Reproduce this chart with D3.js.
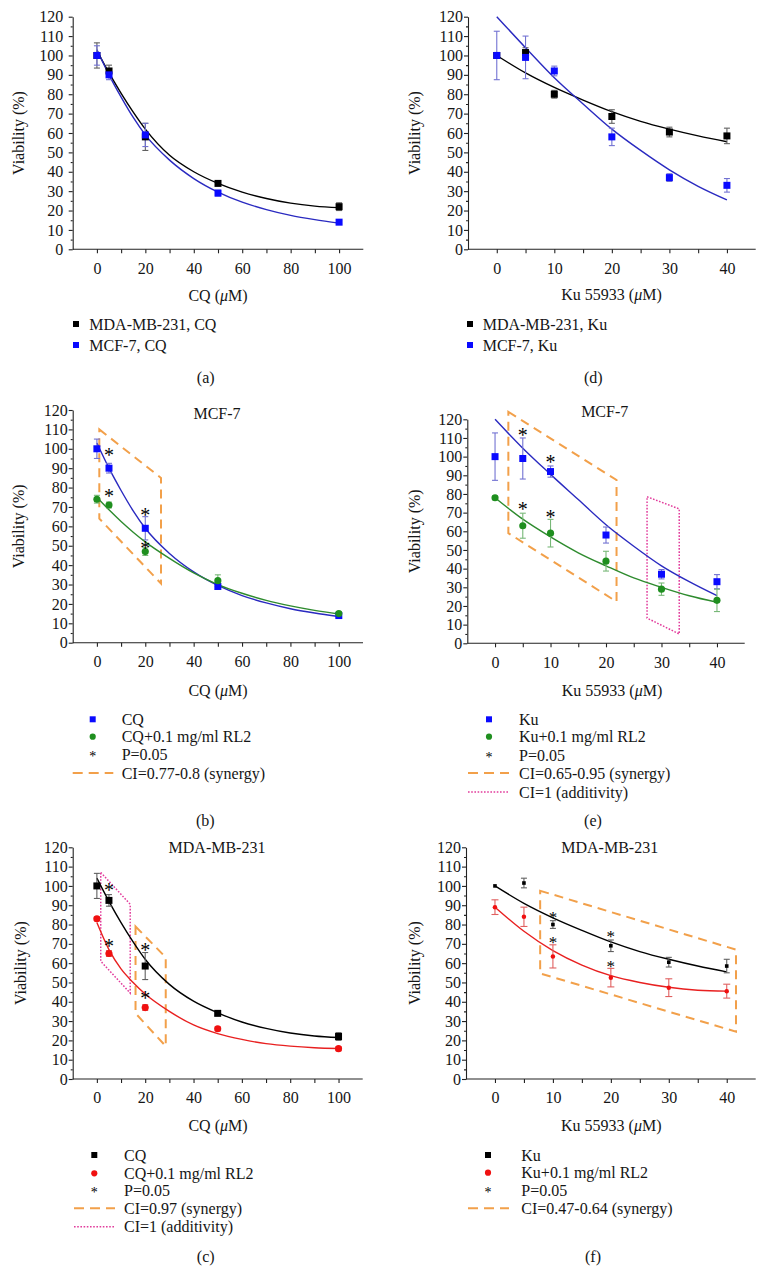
<!DOCTYPE html>
<html><head><meta charset="utf-8">
<script src="https://cdn.jsdelivr.net/npm/d3@7"></script>
<style>
body{margin:0;background:#fff}
svg text{font-family:"Liberation Serif","DejaVu Serif",serif !important;fill:#151515}
</style>
</head><body>
<svg id="fig" width="767" height="1273" font-family="Liberation Serif"></svg>
<script>
// ---------- tick labels ----------
const yTickLabels = [0,10,20,30,40,50,60,70,80,90,100,110,120];
const yMinorTicks = [5,15,25,35,45,55,65,75,85,95,105,115];
const cqTicks = [0,10,20,30,40,50,60,70,80,90,100];
const cqTickLabels = [0,20,40,60,80,100];
const kuTicks = [0,5,10,15,20,25,30,35,40];
const kuTickLabels = [0,10,20,30,40];

// ---------- doses ----------
const cqDoses = [0,5,20,50,100];
const kuDoses = [0,5,10,20,30,40];
const cqCurveX = [0,5,10,15,20,30,40,50,60,70,80,90,100];
const kuCurveX = [0,5,10,15,20,25,30,35,40];

// ---------- panel (a) ----------
const a_mda = [100,92,58,34,22];
const a_mdaErr = [6.5,3,7,1,2];
const a_mcf = [100,90,59,29,14];
const a_mcfErr = [5,2.5,6,1.5,1];
const a_mdaCurve = [102.5,91,80.5,70.8,62,48.5,40,34,29.5,26.2,23.8,22.3,21.5];
const a_mcfCurve = [103,90,78.5,68,59,46,36.5,29.5,24.3,20.5,17.5,15.3,13.5];

// ---------- panel (d) ----------
const d_mda = [100,101.5,80,68.5,60.5,58.5];
const d_mdaErr = [0.5,2.5,2,3.5,2.5,4];
const d_mcf = [100,99,92,58,37,33];
const d_mcfErr = [12.5,11,2.5,4.5,2,3.5];
const d_mdaCurve = [100,91,83.5,77,71,66,62,58.5,55.5];
const d_mcfCurve = [120,104,88.5,75,62,51,41,32.5,25.5];

// ---------- panel (b) ----------
const b_cq = [100,90,59,29,14];
const b_cqErr = [5,2.5,6,1.5,1];
const b_comb = [74,71,47,32,15];
const b_combErr = [2,1.5,2,3,1];
const b_cqCurve = [103,90,78.5,68,59,46,36.5,29.5,24.3,20.5,17.5,15.3,13.5];
const b_combCurve = [75,68.5,62.5,57,52,43.5,36,30,25.5,21.8,19,16.7,14.8];
const b_starX = [5,5,20,20];
const b_starY = [98.5,77,67.5,50.5];
const b_synX = [1,26.5,26.5,1];
const b_synY = [110,85,30.5,64];

// ---------- panel (e) ----------
const e_ku = [100,99,92,58,37,33];
const e_kuErr = [12.7,11,3,4.3,2.5,3.8];
const e_comb = [78,63,59,44,29,23];
const e_combErr = [1,6.7,7.4,5.3,3.3,6];
const e_kuCurve = [120,104.5,90.5,77,63.5,52,41.5,33,25.5];
const e_combCurve = [78,66.5,57,48.5,41.5,35,30,25.5,22];
const e_starX = [5,10,5,10];
const e_starY = [113,98.5,73.5,69.3];
const e_synX = [2.4,21.9,21.9,2.4];
const e_synY = [124,87.5,22.3,59];
const e_addX = [27.4,33.2,33.2,27.4];
const e_addY = [78.5,72,5,13.5];

// ---------- panel (c) ----------
const c_cq = [100,92.5,58.5,34,22];
const c_cqErr = [6.5,3,7,1,2];
const c_comb = [83,65,37,26,15.7];
const c_combErr = [1,1.5,1.5,1,1];
const c_cqCurve = [104,92,81,71,62,49,40.3,34.3,29.5,26.2,23.8,22.3,21.5];
const c_combCurve = [81,67,57,50,44,35,28,23.5,20.5,18.3,17,16.2,15.8];
const c_starX = [5,5,20,20];
const c_starY = [99.3,70.3,68.5,43.5];
const c_addX = [1.6,13.8,13.8,1.6];
const c_addY = [107,90.5,44.5,61];
const c_synX = [16,28.5,28.5,16];
const c_synY = [79,63,17,34];

// ---------- panel (f) ----------
const f_ku = [100,101.5,80,69,60.5,58.5];
const f_kuErr = [0.5,2.5,2,3,2.5,3.5];
const f_comb = [89,84,63.5,52.5,47.3,45.5];
const f_combErr = [3.8,5,6,4.8,4.6,3.6];
const f_kuCurve = [100,91,83.5,77,71,66,62,58.5,55.5];
const f_combCurve = [89,76.5,66.5,59,53.5,50,47.5,46,45.5];
const f_starX = [10,10,20,20];
const f_starY = [85,72,75.4,60];
const f_synX = [7.8,41.6,41.6,7.8];
const f_synY = [97.5,67,24.5,54.7];

// ---------- styles ----------
const SERIF = '"Liberation Serif","DejaVu Serif",serif';
const C = {
  black:{mark:"#000000", line:"#000000", err:"#606060"},
  blue:{mark:"#0a0aff", line:"#2a2ac0", err:"#7272d2"},
  green:{mark:"#1f8f1f", line:"#2e8b2e", err:"#78b878"},
  red:{mark:"#f01010", line:"#e82020", err:"#e06060"}
};
const ORANGE = "#f2a04a", MAGENTA = "#e23c9c";

const svg = d3.select("#fig");

function txt(g){ return g.append("text").style("font-family",SERIF).style("font-size","16px"); }

function xTitle(g, x, y, prefix){
  const t = txt(g).attr("x",x).attr("y",y).attr("text-anchor","middle").attr("dominant-baseline","central");
  t.append("tspan").text(prefix + " (");
  t.append("tspan").style("font-style","italic").text("\u03bc");
  t.append("tspan").text("M)");
}

function panel(p){
  const x = d3.scaleLinear().domain(p.xDomain).range([p.left,p.right]);
  const y = d3.scaleLinear().domain([0,120]).range([p.bottom,p.top]);
  const g = svg.append("g");

  // axes
  const xa = g.append("g").attr("transform",`translate(0,${p.bottom})`)
    .call(d3.axisBottom(x).tickValues(p.xTicks).tickSize(4).tickSizeOuter(0).tickPadding(9)
      .tickFormat(d => p.xLabels.includes(d) ? d : ""));
  g.append("g").attr("transform",`translate(${p.left},0)`)
    .call(d3.axisLeft(y).tickValues(yTickLabels).tickSize(4).tickSizeOuter(0).tickPadding(p.yPad));
  g.append("g").attr("transform",`translate(${p.left},0)`)
    .call(d3.axisLeft(y).tickValues(yMinorTicks).tickSize(2).tickSizeOuter(0).tickFormat(""))
    .select(".domain").remove();
  g.selectAll("g").attr("font-family",null).attr("font-size",null);
  g.selectAll(".tick text").style("font-family",SERIF).style("font-size","16px").style("fill","#151515");
  g.selectAll(".domain, .tick line").attr("stroke","#222").attr("stroke-width",1.1);
  xa.select(".domain").attr("d",`M${p.left},0H${p.right}`);

  // axis titles
  txt(g).attr("transform",`translate(${p.yTitleX},${(p.top+p.bottom)/2}) rotate(-90)`)
    .attr("text-anchor","middle").attr("dominant-baseline","central").text("Viability (%)");
  xTitle(g, p.xTitleX, p.xTitleY, p.xName);
  if (p.title) txt(g).attr("x",p.titleX).attr("y",p.titleY).attr("text-anchor","middle")
    .attr("dominant-baseline","central").text(p.title);

  // CI polygons
  (p.polys||[]).forEach(pl => {
    const pts = pl.xs.map((v,i)=>[x(v), y(pl.ys[i])]);
    g.append("path").attr("d","M"+pts.join("L")+"Z").attr("fill","none")
      .attr("stroke", pl.kind==="syn"?ORANGE:MAGENTA)
      .attr("stroke-width", pl.kind==="syn"?2:1.5)
      .attr("stroke-dasharray", pl.kind==="syn"?"9,6":"1.6,1.6");
  });

  const line = d3.line().curve(d3.curveMonotoneX).x(d=>x(d[0])).y(d=>y(d[1]));
  p.series.forEach(s => {
    const col = C[s.color];
    g.append("path").attr("d", line(s.cx.map((v,i)=>[v,s.cy[i]])))
      .attr("fill","none").attr("stroke",col.line).attr("stroke-width",1.4);
    const eb = g.append("g").attr("stroke",col.err).attr("stroke-width",1.1);
    s.x.forEach((v,i)=>{
      const e = s.err[i]; if (e<=0.6) return;
      const cx = x(v), y1 = y(s.y[i]+e), y2 = y(s.y[i]-e), w = s.cap;
      eb.append("line").attr("x1",cx).attr("x2",cx).attr("y1",y1).attr("y2",y2);
      eb.append("line").attr("x1",cx-w).attr("x2",cx+w).attr("y1",y1).attr("y2",y1);
      eb.append("line").attr("x1",cx-w).attr("x2",cx+w).attr("y1",y2).attr("y2",y2);
    });
  });
  p.series.forEach(s => {
    const col = C[s.color];
    const sym = d3.symbol().type(s.shape==="square"?d3.symbolSquare:d3.symbolCircle).size(s.size);
    g.selectAll(null).data(s.x.map((v,i)=>[v,s.y[i]])).join("path")
      .attr("transform",d=>`translate(${x(d[0])},${y(d[1])})`).attr("d",sym()).attr("fill",col.mark);
  });
  if (p.stars) p.stars.xs.forEach((v,i)=>{
    txt(g).attr("x",x(v)).attr("y",y(p.stars.ys[i])+p.stars.fs*0.5)
      .attr("text-anchor","middle").style("font-size",p.stars.fs+"px").style("fill","#000").text("*");
  });

  // legend
  p.legend.items.forEach((it,i)=>{
    const ly = p.legend.rows[i];
    const L = p.legend;
    if (it.type==="square"||it.type==="circle"){
      const sym = d3.symbol().type(it.type==="square"?d3.symbolSquare:d3.symbolCircle).size(it.type==="square"?36:30);
      g.append("path").attr("transform",`translate(${L.mx},${ly})`).attr("d",sym()).attr("fill",C[it.color].mark);
    } else if (it.type==="star"){
      txt(g).attr("x",L.mx).attr("y",ly+7).attr("text-anchor","middle").style("font-size","14px").style("fill","#000").text("*");
    } else {
      g.append("line").attr("x1",L.l1).attr("x2",L.l2).attr("y1",ly).attr("y2",ly)
        .attr("stroke", it.type==="dash"?ORANGE:MAGENTA).attr("stroke-width", it.type==="dash"?2:1.5)
        .attr("stroke-dasharray", it.type==="dash"?"10,6":"1.6,1.6");
    }
    txt(g).attr("x",L.tx).attr("y",ly).attr("dominant-baseline","central").text(it.label);
  });
  txt(g).attr("x",p.tagX).attr("y",p.tagY).attr("text-anchor","middle")
    .attr("dominant-baseline","central").text(p.tag);
}

const sq = {shape:"square", size:49, cap:3};
const ci = {shape:"circle", size:40, cap:3};

// (a)
panel({left:72.7,right:363.3,top:16.7,bottom:249.3,xDomain:[-10,110],xTicks:cqTicks,xLabels:cqTickLabels,
  yPad:5.4,yTitleX:18,xTitleX:218,xTitleY:295,xName:"CQ",
  series:[
    Object.assign({x:cqDoses,y:a_mda,err:a_mdaErr,cx:cqCurveX,cy:a_mdaCurve,color:"black"},sq),
    Object.assign({x:cqDoses,y:a_mcf,err:a_mcfErr,cx:cqCurveX,cy:a_mcfCurve,color:"blue"},sq)],
  legend:{mx:76,tx:89.3,rows:[324,345],items:[
    {type:"square",color:"black",label:"MDA-MB-231, CQ"},
    {type:"square",color:"blue",label:"MCF-7, CQ"}]},
  tag:"(a)",tagX:205.7,tagY:377.3});

// (d)
panel({left:468,right:755.7,top:16.7,bottom:249.3,xDomain:[-5,45],xTicks:kuTicks,xLabels:kuTickLabels,
  yPad:1,yTitleX:414.7,xTitleX:611.5,xTitleY:293.5,xName:"Ku 55933",
  series:[
    Object.assign({x:kuDoses,y:d_mda,err:d_mdaErr,cx:kuCurveX,cy:d_mdaCurve,color:"black"},sq),
    Object.assign({x:kuDoses,y:d_mcf,err:d_mcfErr,cx:kuCurveX,cy:d_mcfCurve,color:"blue"},sq)],
  legend:{mx:470,tx:482.7,rows:[324,345],items:[
    {type:"square",color:"black",label:"MDA-MB-231, Ku"},
    {type:"square",color:"blue",label:"MCF-7, Ku"}]},
  tag:"(d)",tagX:593.3,tagY:377.3});

// (b)
panel({left:72.7,right:363,top:410,bottom:642.7,xDomain:[-10,110],xTicks:cqTicks,xLabels:cqTickLabels,
  yPad:1,yTitleX:18.3,xTitleX:218,xTitleY:690,xName:"CQ",title:"MCF-7",titleX:217,titleY:413.3,
  polys:[{xs:b_synX,ys:b_synY,kind:"syn"}],
  series:[
    Object.assign({x:cqDoses,y:b_cq,err:b_cqErr,cx:cqCurveX,cy:b_cqCurve,color:"blue"},sq),
    Object.assign({x:cqDoses,y:b_comb,err:b_combErr,cx:cqCurveX,cy:b_combCurve,color:"green"},ci)],
  stars:{xs:b_starX,ys:b_starY,fs:20},
  legend:{mx:92.7,tx:121.7,l1:72.7,l2:113.3,rows:[719.3,736.7,754,773],items:[
    {type:"square",color:"blue",label:"CQ"},
    {type:"circle",color:"green",label:"CQ+0.1 mg/ml RL2"},
    {type:"star",label:"P=0.05"},
    {type:"dash",label:"CI=0.77-0.8 (synergy)"}]},
  tag:"(b)",tagX:205.3,tagY:820});

// (e)
panel({left:467.3,right:744.7,top:419.3,bottom:643.3,xDomain:[-5,45],xTicks:kuTicks,xLabels:kuTickLabels,
  yPad:1,yTitleX:414.7,xTitleX:612,xTitleY:690,xName:"Ku 55933",title:"MCF-7",titleX:604.7,titleY:411.7,
  polys:[{xs:e_synX,ys:e_synY,kind:"syn"},{xs:e_addX,ys:e_addY,kind:"add"}],
  series:[
    Object.assign({x:kuDoses,y:e_ku,err:e_kuErr,cx:kuCurveX,cy:e_kuCurve,color:"blue"},sq),
    Object.assign({x:kuDoses,y:e_comb,err:e_combErr,cx:kuCurveX,cy:e_combCurve,color:"green"},ci)],
  stars:{xs:e_starX,ys:e_starY,fs:20},
  legend:{mx:489,tx:519,l1:468,l2:509,rows:[719.3,736.7,755,773,792],items:[
    {type:"square",color:"blue",label:"Ku"},
    {type:"circle",color:"green",label:"Ku+0.1 mg/ml RL2"},
    {type:"star",label:"P=0.05"},
    {type:"dash",label:"CI=0.65-0.95 (synergy)"},
    {type:"dot",label:"CI=1 (additivity)"}]},
  tag:"(e)",tagX:593,tagY:820});

// (c)
panel({left:72.7,right:362.7,top:847.3,bottom:1079,xDomain:[-10,110],xTicks:cqTicks,xLabels:cqTickLabels,
  yPad:1,yTitleX:20,xTitleX:218,xTitleY:1125,xName:"CQ",title:"MDA-MB-231",titleX:217,titleY:847,
  polys:[{xs:c_addX,ys:c_addY,kind:"add"},{xs:c_synX,ys:c_synY,kind:"syn"}],
  series:[
    Object.assign({x:cqDoses,y:c_cq,err:c_cqErr,cx:cqCurveX,cy:c_cqCurve,color:"black"},sq),
    Object.assign({x:cqDoses,y:c_comb,err:c_combErr,cx:cqCurveX,cy:c_combCurve,color:"red"},ci)],
  stars:{xs:c_starX,ys:c_starY,fs:20},
  legend:{mx:94.3,tx:124,l1:74,l2:115,rows:[1155,1173.3,1190,1208.3,1226.7],items:[
    {type:"square",color:"black",label:"CQ"},
    {type:"circle",color:"red",label:"CQ+0.1 mg/ml RL2"},
    {type:"star",label:"P=0.05"},
    {type:"dash",label:"CI=0.97 (synergy)"},
    {type:"dot",label:"CI=1 (additivity)"}]},
  tag:"(c)",tagX:205.7,tagY:1256.7});

// (f)
panel({left:466,right:755.7,top:847.3,bottom:1079,xDomain:[-5,45],xTicks:kuTicks,xLabels:kuTickLabels,
  yPad:1,yTitleX:414.7,xTitleX:611.3,xTitleY:1125,xName:"Ku 55933",title:"MDA-MB-231",titleX:609.7,titleY:847.3,
  polys:[{xs:f_synX,ys:f_synY,kind:"syn"}],
  series:[
    {x:kuDoses,y:f_ku,err:f_kuErr,cx:kuCurveX,cy:f_kuCurve,color:"black",shape:"square",size:13,cap:3},
    {x:kuDoses,y:f_comb,err:f_combErr,cx:kuCurveX,cy:f_combCurve,color:"red",shape:"circle",size:16,cap:3.5}],
  stars:{xs:f_starX,ys:f_starY,fs:17},
  legend:{mx:488,tx:521.3,l1:468,l2:509,rows:[1155,1172.7,1190,1208.3],items:[
    {type:"square",color:"black",label:"Ku"},
    {type:"circle",color:"red",label:"Ku+0.1 mg/ml RL2"},
    {type:"star",label:"P=0.05"},
    {type:"dash",label:"CI=0.47-0.64 (synergy)"}]},
  tag:"(f)",tagX:593,tagY:1256.7});
</script>
</body></html>
